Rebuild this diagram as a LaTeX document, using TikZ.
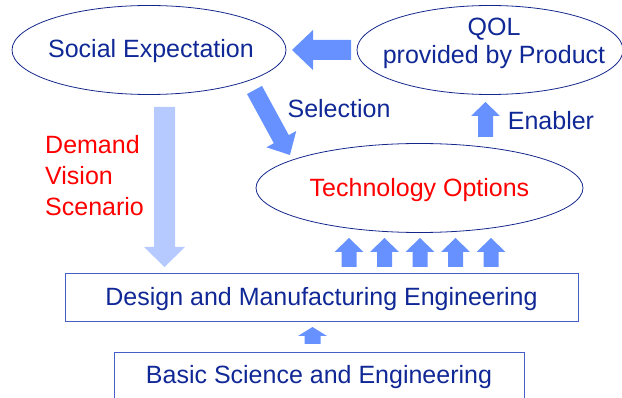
\documentclass[tikz,border=0pt]{standalone}
\usepackage{fontspec}
\setmainfont{Liberation Sans}
\usetikzlibrary{shapes.geometric}
\definecolor{txtblue}{RGB}{16,40,150}
\definecolor{lineblue}{RGB}{20,40,140}
\definecolor{boxblue}{RGB}{70,95,200}
\definecolor{arrblue}{RGB}{102,145,255}
\definecolor{paleblue}{RGB}{182,202,255}
\tikzset{
  pics/barrow/.style n args={5}{code={
    \fill[#5] (0,-#2/2) -- (#1-#4,-#2/2) -- (#1-#4,-#3/2) -- (#1,0)
      -- (#1-#4,#3/2) -- (#1-#4,#2/2) -- (0,#2/2) -- cycle;}},
  oval/.style={ellipse, draw=lineblue, line width=0.8pt, inner sep=0pt},
  layer/.style={rectangle, draw=boxblue, line width=0.9pt, inner sep=0pt},
  lbl/.style={font=\fontsize{25}{28.5}\selectfont, text=txtblue, inner sep=0pt},
  one/.style={text height=18pt, text depth=0pt},
  redlbl/.style={font=\fontsize{25}{31}\selectfont, text=red, inner sep=0pt},
}
\begin{document}
\begin{tikzpicture}[x=1pt,y=-1pt]
\useasboundingbox (0,0) rectangle (622,398);
% ellipses
\node[oval, minimum width=274, minimum height=89] (social) at (149,50) {};
\node[lbl, one] (socialtext) at (151,49) {Social Expectation};
\node[oval, minimum width=266, minimum height=89] (qol) at (490,50) {};
\node[lbl, align=center] (qoltext) at (494,43.5) {QOL\\provided by Product};
\node[oval, minimum width=327, minimum height=89, lbl, one, text=red] (tech) at (419.5,188) {Technology Options};
% boxes
\node[layer, minimum width=513, minimum height=48, lbl, one] (design) at (321.5,297) {Design and Manufacturing Engineering};
\node[layer, minimum width=410, minimum height=46, lbl, one] (basic) at (319,375) {Basic Science and Engineering};
% labels
\node[lbl, one] (sel) at (339,109) {Selection};
\node[lbl, one] (enab) at (551,121) {Enabler};
\node[redlbl, align=left, anchor=north west] (dvs) at (45,135) {Demand\\Vision\\Scenario};
% block arrows
\pic[rotate=180] at (351,50) {barrow={59}{20}{40}{21}{arrblue}};
\pic[rotate=-61.4] at (254.5,90) {barrow={74}{17}{34}{18}{arrblue}};
\pic[rotate=90] at (485.5,137) {barrow={35}{15}{29}{14}{arrblue}};
\pic[rotate=-90] at (164.5,107) {barrow={160}{21}{41}{20}{paleblue}};
\foreach \xx in {349,384.5,420,455.5,491}{
  \pic[rotate=90] at (\xx,267) {barrow={29}{15}{29}{14}{arrblue}};
}
\pic[rotate=90] at (312.5,344) {barrow={17}{16}{29}{9}{arrblue}};
\end{tikzpicture}
\end{document}
